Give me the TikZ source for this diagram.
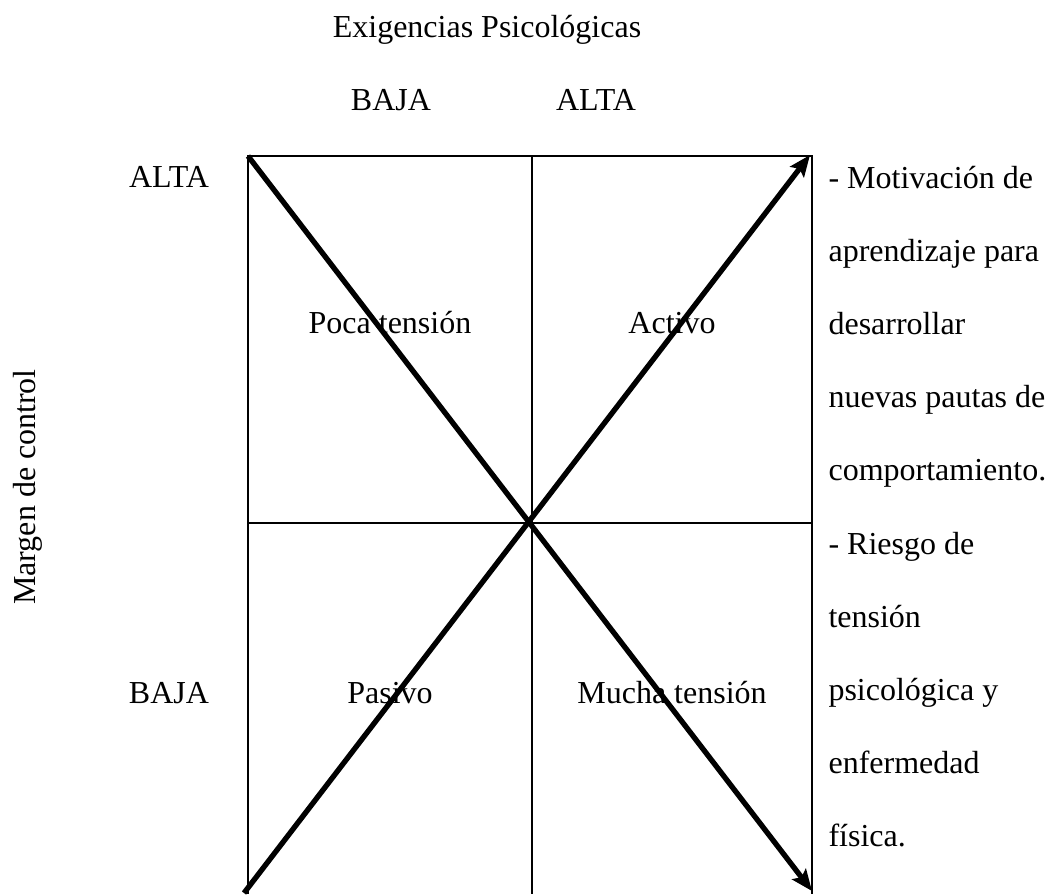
\documentclass[tikz,border=0pt]{standalone}
\usepackage{fontspec}
\setmainfont{Liberation Serif}
\usetikzlibrary{arrows.meta}
\begin{document}
\begin{tikzpicture}[x=0.375pt,y=-0.375pt,
  lbl/.style={inner sep=0pt,anchor=base,font=\fontsize{12}{14}\selectfont},
  rlbl/.style={inner sep=0pt,anchor=base west,font=\fontsize{12}{14}\selectfont},
  frame/.style={line width=0.8pt},
  diag/.style={line width=2pt,-{Stealth[length=8pt,width=6.5pt,inset=1.5pt]}}]
\useasboundingbox (0,0) rectangle (1051,894);
% grid corners
\coordinate (tl) at (248,156);
\coordinate (tm) at (532,156);
\coordinate (tr) at (812,156);
\coordinate (ml) at (248,523);
\coordinate (mr) at (812,523);
\coordinate (bl) at (248,894);
\coordinate (bm) at (532,894);
\coordinate (br) at (812,894);
% frame (open at the bottom)
\draw[frame] (bl) -- (tl) -- (tr) -- (br);
\draw[frame] (tm) -- (bm);
\draw[frame] (ml) -- (mr);
% diagonals
\coordinate (d1s) at (248,156);
\coordinate (d1e) at (812,891);
\coordinate (d2s) at (244,893);
\coordinate (d2e) at (810,155);
\draw[diag] (d1s) -- (d1e);
\draw[diag] (d2s) -- (d2e);
% axis titles
\node[lbl] (exig) at (487,37) {Exigencias Psicológicas};
\node[lbl] (colbaja) at (391,110) {BAJA};
\node[lbl] (colalta) at (596,110) {ALTA};
\node[lbl] (rowalta) at (169,187) {ALTA};
\node[lbl] (rowbaja) at (169,703) {BAJA};
\node[lbl,rotate=90] (margen) at (35,487) {Margen de control};
% quadrant labels
\node[lbl] (poca) at (390,333) {Poca tensión};
\node[lbl] (activo) at (672,333) {Activo};
\node[lbl] (pasivo) at (390,703) {Pasivo};
\node[lbl] (mucha) at (672,703) {Mucha tensión};
% side notes
\foreach \t [count=\i] in {- Motivación de,aprendizaje para,desarrollar,nuevas pautas de,comportamiento.,- Riesgo de,tensión,psicológica y,enfermedad,física.}
  \node[rlbl] (note\i) at (828,{188+(\i-1)*73.2}) {\t};
\end{tikzpicture}
\end{document}
